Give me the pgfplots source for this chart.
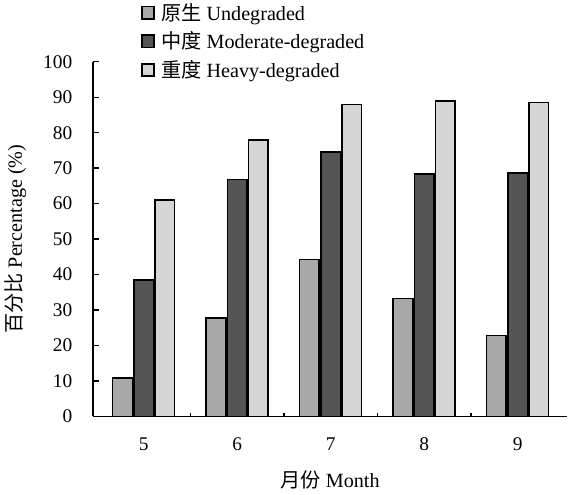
\documentclass[border=0pt]{standalone}
\usepackage{fontspec}
\setmainfont{Liberation Serif}
\newfontfamily\cjk{Noto Sans CJK SC}
\usepackage{pgfplots}
\pgfplotsset{compat=1.18}
\definecolor{cU}{HTML}{A8A8A8}
\definecolor{cM}{HTML}{555555}
\definecolor{cH}{HTML}{D6D6D6}
\begin{document}
\begin{tikzpicture}[font=\fontsize{12.5}{15}\selectfont]
\begin{axis}[
 scale only axis, width=306pt, height=229pt,
 ybar=1pt, bar width=0.21,
 xmin=-0.54, xmax=4.53, ymin=0, ymax=100,
 axis x line=bottom, axis y line=left,
 axis line style={-, line width=1.1pt},
 xtick={0,...,4}, xticklabels={5,6,7,8,9},
 major x tick style={draw=none},
 minor xtick={0.5,1.5,2.5,3.5},
 ytick={0,10,...,100},
 tick align=inside,
 major tick length=4pt, minor tick length=2.5pt,
 tick style={black, line width=0.9pt},
 /pgf/number format/assume math mode=true,
 tick label style={font=\fontsize{12.5}{15}\selectfont},
 xticklabel style={yshift=-10pt},
 yticklabel style={xshift=-10pt},
 xlabel={{\cjk 月份} Month},
 ylabel={{\cjk 百分比} Percentage (\%)},
 label style={font=\fontsize{13}{15}\selectfont},
 xlabel style={yshift=-6pt},
 ylabel style={yshift=4pt},
 every axis plot/.append style={draw=black, line width=1pt},
 legend style={draw=none, fill=none, at={(rel axis cs:0.1,1.175)}, anchor=north west,
   inner sep=0pt, row sep=2pt, font=\fontsize{13}{15}\selectfont,
   nodes={inner xsep=4pt}},
 legend cell align=left,
 legend image code/.code={\draw[#1, draw=black, line width=1.2pt] (0pt,-4pt) rectangle (8pt,4pt);},
]
\addplot[fill=cU] coordinates {(0,10.8) (1,27.7) (2,44.2) (3,33.2) (4,22.8)};
\addplot[fill=cM] coordinates {(0,38.5) (1,66.8) (2,74.6) (3,68.4) (4,68.6)};
\addplot[fill=cH] coordinates {(0,61.0) (1,77.9) (2,87.9) (3,89.0) (4,88.5)};
\legend{{\cjk 原生} Undegraded, {\cjk 中度} Moderate-degraded, {\cjk 重度} Heavy-degraded}
\end{axis}
\end{tikzpicture}
\end{document}
